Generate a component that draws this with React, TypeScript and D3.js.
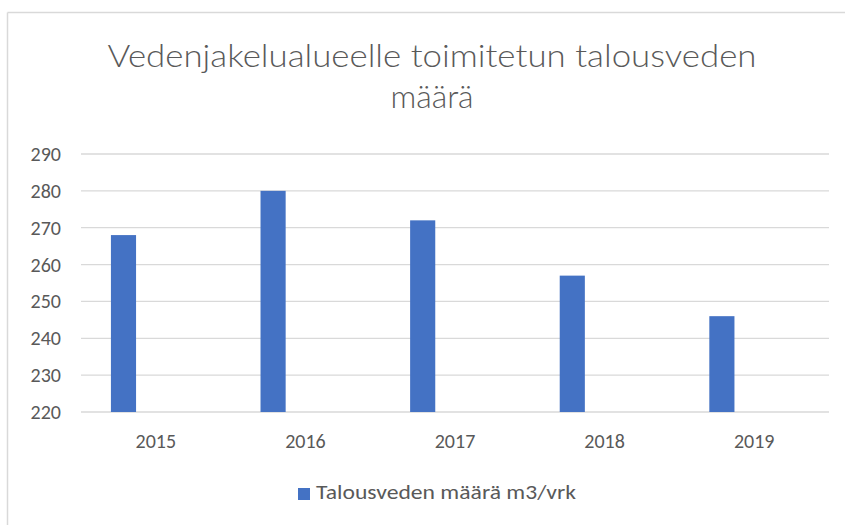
import React from "react";
import * as d3 from "d3";

const years = ["2015", "2016", "2017", "2018", "2019"];
const values = [268, 280, 272, 257, 246];
const yTicks = [220, 230, 240, 250, 260, 270, 280, 290];
const titleLines = ["Vedenjakelualueelle toimitetun talousveden", "määrä"];
const seriesName = "Talousveden määrä m3/vrk";

const W = 845;
const H = 525;
const FONT = "Carlito, 'Open Sans', 'Liberation Sans', sans-serif";
const TITLE_FONT = "'Lato', Carlito, 'Open Sans', sans-serif";
const TEXT = "#595959";
const GRID = "#D9D9D9";
const BAR = "#4472C4";

export default function App() {
  const left = 81;
  const right = 829;
  const top = 154;
  const bottom = 412;
  const x = d3.scaleBand<string>().domain(years).range([left, right]).padding(0);
  const y = d3.scaleLinear().domain([220, 290]).range([bottom, top]);
  const step = x.step();
  const barOffset = step * 0.2;
  const barW = step * 0.168;

  return (
    <svg
      width={W}
      height={H}
      style={{ position: "absolute", left: 0, top: 0, background: "#fff" }}
      fontFamily={FONT}
    >
      <rect x={0} y={0} width={W} height={H} fill="#fff" />
      <line x1={7.5} y1={12.5} x2={W} y2={12.5} stroke={GRID} strokeWidth={1.5} />
      <line x1={7.5} y1={12.5} x2={7.5} y2={H} stroke={GRID} strokeWidth={1.5} />

      <text
        x={432}
        y={67}
        textAnchor="middle"
        fontSize={32}
        fontWeight={300}
        fontFamily={TITLE_FONT}
        fill={TEXT}
        textLength={649}
        lengthAdjust="spacingAndGlyphs"
      >
        {titleLines[0]}
      </text>
      <text
        x={432}
        y={108}
        textAnchor="middle"
        fontSize={32}
        fontWeight={300}
        fontFamily={TITLE_FONT}
        fill={TEXT}
      >
        {titleLines[1]}
      </text>

      {yTicks.map((t) => (
        <g key={t}>
          <line x1={left} x2={right} y1={y(t)} y2={y(t)} stroke={GRID} strokeWidth={1.3} />
          <text x={61} y={y(t) + 7} textAnchor="end" fontSize={20} fill={TEXT}>
            {t}
          </text>
        </g>
      ))}

      {years.map((yr, i) => (
        <rect
          key={yr}
          x={(x(yr) as number) + barOffset}
          y={y(values[i])}
          width={barW}
          height={y(220) - y(values[i])}
          fill={BAR}
        />
      ))}

      {years.map((yr) => (
        <text
          key={yr}
          x={(x(yr) as number) + step / 2}
          y={448}
          textAnchor="middle"
          fontSize={20}
          fill={TEXT}
        >
          {yr}
        </text>
      ))}

      <rect x={298} y={488} width={12} height={12} fill={BAR} />
      <text x={316} y={499} fontSize={19.5} fill={TEXT} textLength={260} lengthAdjust="spacingAndGlyphs">
        {seriesName}
      </text>
    </svg>
  );
}
